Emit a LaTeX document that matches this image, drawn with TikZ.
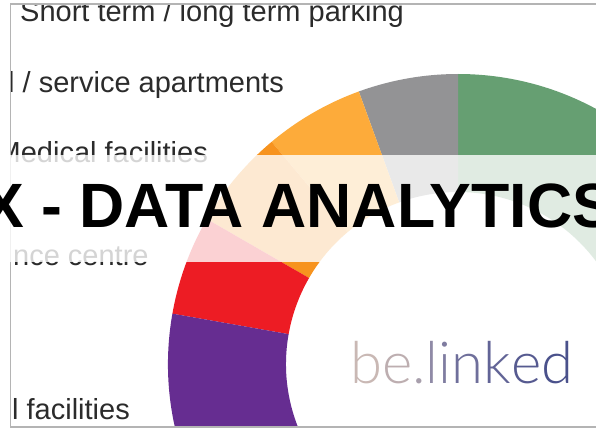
\documentclass[tikz,border=0pt]{standalone}
\usepackage{fontspec}
\setmainfont{Liberation Sans}
\newfontfamily\lightfont{Lato Light}
\usepackage{xcolor}
\definecolor{cgreen}{HTML}{669F72}
\definecolor{cgray}{HTML}{939395}
\definecolor{corange}{HTML}{FDAB3A}
\definecolor{cdark}{HTML}{F7931E}
\definecolor{cred}{HTML}{ED1C24}
\definecolor{cpurple}{HTML}{662D91}
\definecolor{ctext}{HTML}{2B2B2B}
\definecolor{cframe}{HTML}{B4B4B4}
\tikzset{
  x=1pt,y=1pt,
  lab/.style={anchor=base west,inner sep=0pt,text=ctext,font=\fontsize{29}{29}\selectfont},
  title/.style={anchor=base west,inner sep=0pt,text=black,font=\fontsize{62.6}{63}\selectfont\bfseries},
  logo/.style={anchor=base west,inner sep=0pt,font=\fontsize{58}{58}\selectfont\lightfont},
}
\newcommand{\seg}[3]{\fill[#1] (458,65)++(#2:290) arc[start angle=#2,end angle=#3,radius=290] -- ++(#3+180:118) arc[start angle=#3,end angle=#2,radius=172] -- cycle;}
\begin{document}
\begin{tikzpicture}
\useasboundingbox (0,0) rectangle (596,429);
\fill[white] (0,0) rectangle (596,429);
\begin{scope}
\clip (10,2) rectangle (596,425);
\seg{cgreen}{90}{-45}
\seg{cgray}{110}{90}
\seg{corange}{130}{110}
\seg{cdark}{150}{130}
\seg{cred}{170}{150}
\seg{cpurple}{260}{170}
\node[lab] (parking) at (20,407) {Short term / long term parking};
\node[lab] (service) at (8,336) {l / service apartments};
\node[lab] (medical) at (-3.5,266) {Medical facilities};
\node[lab] (centre) at (13,164) {nce centre};
\node[lab] (facilities) at (12,10) {l facilities};
\node[logo] (logo) at (350,46) {\textcolor[HTML]{C9B8B4}{b}\textcolor[HTML]{BDAEB0}{e}\textcolor[HTML]{A89FAC}{.}\textcolor[HTML]{8F8AA6}{l}\textcolor[HTML]{7F7CA0}{i}\textcolor[HTML]{6F6F9B}{n}\textcolor[HTML]{626496}{k}\textcolor[HTML]{565A90}{e}\textcolor[HTML]{4A518B}{d}};
\end{scope}
\draw[cframe,line width=1.3pt] (596,425) -- (10.5,425) -- (10.5,2) -- (596,2);
\fill[white,fill opacity=.8] (0,167) rectangle (596,274);
\begin{scope}
\clip (0,0) rectangle (596,429);
\node[title] (title) at (-18,201.5) {X - DATA ANALYTICS};
\end{scope}
\end{tikzpicture}
\end{document}
